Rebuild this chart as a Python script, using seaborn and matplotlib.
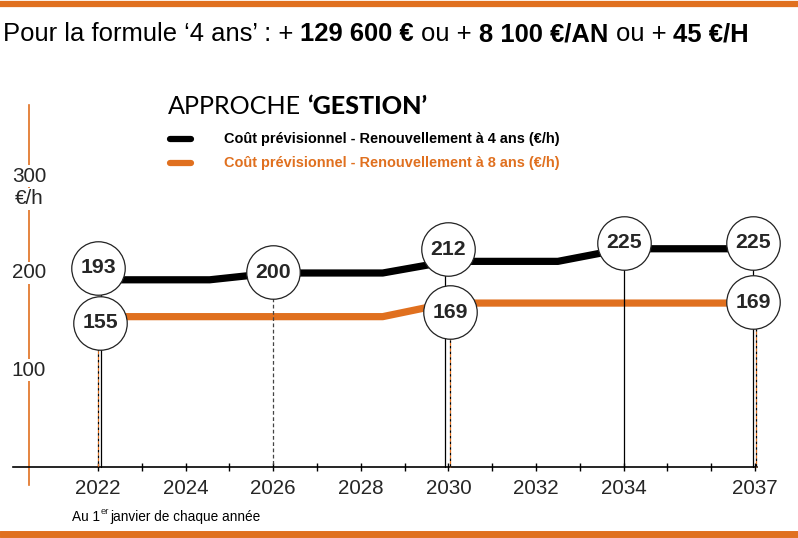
import seaborn as sns
import matplotlib.pyplot as plt
import matplotlib.transforms as mtrans
from matplotlib import font_manager as fm
from matplotlib.lines import Line2D
import pandas as pd

# values (cost in EUR per hour)
years_4ans = [2022, 2024.55, 2026, 2028.5, 2030, 2032.5, 2034, 2037]
cout_4ans = [193, 193, 200, 200, 212, 212, 225, 225]
years_8ans = [2022, 2028.5, 2030, 2037]
cout_8ans = [155, 155, 169, 169]

# labelled points (circles)
pts_4ans_years = [2022, 2026, 2030, 2034, 2037]
pts_4ans_vals = [193, 200, 212, 225, 225]
pts_8ans_years = [2022, 2030, 2037]
pts_8ans_vals = [155, 169, 169]

year_ticks = [2022, 2024, 2026, 2028, 2030, 2032, 2034, 2037]
minor_years = list(range(2023, 2037))
y_labels = [100, 200, 300]

title_parts = ["Pour la formule ‘4 ans’ : +", "129 600 €", "ou +", "8 100 €/AN", "ou +", "45 €/H"]
title_weights = ['normal', 'bold', 'normal', 'bold', 'normal', 'bold']
legend_labels = ['Coût prévisionnel - Renouvellement à 4 ans (€/h)',
                 'Coût prévisionnel - Renouvellement à 8 ans (€/h)']

ORANGE = '#E0701F'
W, H = 798, 538

# pixel offsets of circles / drop lines (style only)
off_4ans = [(0, 12), (0, 1), (0, 12), (0, 6), (-2, 6)]
off_8ans = [(2, -6), (2, -9), (-2, 1)]
drop_4ans = [(3, '-', 'black'), (0, '--', '#444444'), (-3, '-', 'black'), (0, '-', 'black'), (-2, '-', 'black')]
drop_8ans = [0, 2, 1]

names = {f.name for f in fm.fontManager.ttflist}
NARROW = next((n for n in ['Liberation Sans Narrow', 'Arial Narrow', 'Nimbus Sans Narrow', 'Liberation Sans']
               if n in names), 'DejaVu Sans')
k = 1.0 if 'Narrow' in NARROW else 0.9

sns.set_theme(style='white')
plt.rcParams['font.family'] = [NARROW, 'DejaVu Sans']

fig = plt.figure(figsize=(W / 100, H / 100), dpi=100)
ax = fig.add_axes([10.4 / W, (H - 486.4) / H, 766.5 / W, 388 / H])
ax.set_xlim(2020, 2037.5)
ax.set_ylim(-20, 380)

df = pd.concat([
    pd.DataFrame({'annee': years_4ans, 'cout': cout_4ans, 'formule': '4 ans'}),
    pd.DataFrame({'annee': years_8ans, 'cout': cout_8ans, 'formule': '8 ans'}),
])
sns.lineplot(data=df, x='annee', y='cout', hue='formule', palette=['black', ORANGE],
             linewidth=5.2, legend=False, ax=ax, zorder=2, sort=False)

def shifted(dx, dy=0):
    return ax.transData + mtrans.ScaledTranslation(dx / 100, dy / 100, fig.dpi_scale_trans)

# drop lines to the axis
for (yr, v, (dx, ls, c)) in zip(pts_4ans_years, pts_4ans_vals, drop_4ans):
    ax.plot([yr, yr], [v, 0], ls=ls, color=c, lw=0.9, transform=shifted(dx), zorder=3,
            dashes=(3, 2) if ls == '--' else (None, None))
for yr, v, dx in zip(pts_8ans_years, pts_8ans_vals, drop_8ans):
    ax.plot([yr, yr], [v, 0], color=ORANGE, lw=0.9, dashes=(2.5, 2), transform=shifted(dx), zorder=3)
    ax.plot([yr, yr], [v, 0], color='black', lw=0.9, dashes=(0, 2.5, 2, 0), transform=shifted(dx), zorder=3)

# circles with values
for yrs, vals, offs in [(pts_4ans_years, pts_4ans_vals, off_4ans), (pts_8ans_years, pts_8ans_vals, off_8ans)]:
    for yr, v, (dx, dy) in zip(yrs, vals, offs):
        tr = shifted(dx, dy)
        ax.plot(yr, v, 'o', ms=38.5, mfc='white', mec='#222222', mew=0.9, transform=tr, zorder=4,
                clip_on=False)
        ax.text(yr, v, str(v), transform=tr, ha='center', va='center', fontsize=17 * k,
                fontweight='bold', zorder=5, clip_on=False)

# axes styling
for s in ['top', 'right']:
    ax.spines[s].set_visible(False)
ax.spines['bottom'].set_position(('data', 0))
ax.spines['bottom'].set_bounds(2020.06, 2037.05)
ax.spines['bottom'].set_color('black')
ax.spines['bottom'].set_linewidth(1.2)
ax.spines['left'].set_position(('data', 2020.42))
ax.spines['left'].set_bounds(-18.5, 373)
ax.spines['left'].set_color(ORANGE)
ax.spines['left'].set_linewidth(1.2)
ax.set_yticks([])
ax.set_xticks(year_ticks, [str(y) for y in year_ticks])
ax.set_xticks(minor_years, minor=True)
ax.tick_params(axis='x', which='both', bottom=True, direction='inout', length=6, width=1,
               color='black', labelsize=16.5 * k, pad=5.5)
ax.set_xlabel('')
ax.set_ylabel('')

for v in y_labels:
    ax.text(2020.42, v, str(v), ha='center', va='center', fontsize=16.5 * k, zorder=6,
            bbox=dict(fc='white', ec='none', pad=1))
ax.annotate('€/h', (2020.42, y_labels[-1]), xytext=(0, -23), textcoords='offset pixels',
            ha='center', va='center', fontsize=16.5 * k, zorder=6,
            bbox=dict(fc='white', ec='none', pad=1))

# figure level decorations
r = fig.canvas.get_renderer()

def fx(x):
    return x / W

def fy(y):
    return 1 - y / H

def place(x, y, parts, weights, size, family, color='black', target=None):
    def draw(sz):
        arts, cx = [], x
        for i, (s, w) in enumerate(zip(parts, weights)):
            fam = family[i] if isinstance(family, list) else family
            t = fig.text(fx(cx), fy(y), s, fontsize=sz, fontweight=w, family=fam, color=color,
                         va='center', ha='left')
            arts.append(t)
            a = fig.text(0, 0, 'x x', fontsize=sz, fontweight=w, family=fam)
            b = fig.text(0, 0, 'xx', fontsize=sz, fontweight=w, family=fam)
            gap = a.get_window_extent(r).width - b.get_window_extent(r).width
            a.remove(); b.remove()
            cx += t.get_window_extent(r).width + gap
        return arts, cx - gap - x
    arts, width = draw(size)
    if target:
        for t in arts:
            t.remove()
        arts, width = draw(size * target / width)
    return arts

place(3, 34, title_parts, title_weights, 20, NARROW, target=745)
place(168, 106, ['APPROCHE', '‘GESTION’'], ['normal', 'black'], 17, ['Lato', 'Lato'], target=260)
for i, (lab, c) in enumerate(zip(legend_labels, ['black', ORANGE])):
    yy = 139 + 24 * i
    fig.add_artist(Line2D([fx(170), fx(191)], [fy(yy), fy(yy)], color=c, lw=4.5,
                          solid_capstyle='round', transform=fig.transFigure))
    place(224, yy, [lab], ['bold'], 12, NARROW, color=c, target=334)

place(72, 517, ['Au 1'], ['normal'], 9.8, NARROW)
t1 = fig.texts[-1]
x_er = 72 + t1.get_window_extent(r).width
fig.text(fx(x_er + 0.5), fy(512), 'er', fontsize=6.8, va='center', ha='left')
place(x_er + 10, 517, ['janvier de chaque année'], ['normal'], 9.8, NARROW)

# orange bars top / bottom
fig.add_artist(Line2D([0, 1], [fy(3.5), fy(3.5)], color=ORANGE, lw=4.5, transform=fig.transFigure))
fig.add_artist(Line2D([0, 1], [fy(534), fy(534)], color=ORANGE, lw=5, transform=fig.transFigure))

fig.savefig('out.png', dpi=100, facecolor='white')
